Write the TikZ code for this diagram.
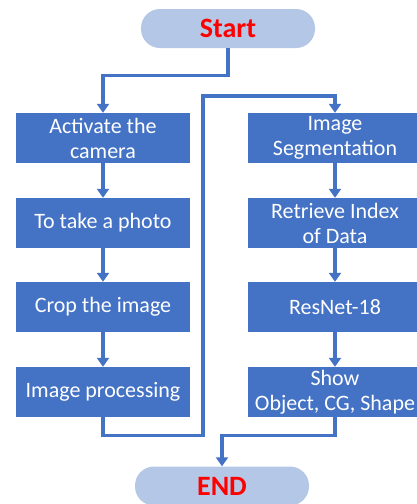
\documentclass[tikz,border=0pt]{standalone}
\usepackage{fontspec}
\setmainfont{Carlito}
\usetikzlibrary{arrows.meta}

\definecolor{boxblue}{HTML}{4472C4}
\definecolor{termblue}{HTML}{B4C7E7}

\begin{document}
\begin{tikzpicture}[x=1pt,y=-1pt,
    procbox/.style={fill=boxblue,text=white,minimum width=174pt,minimum height=50pt,
      align=center,inner sep=2pt,font=\fontsize{22}{25}\selectfont},
    termbox/.style={fill=termblue,text=red,minimum width=174pt,minimum height=39pt,
      rounded corners=19pt,font=\fontsize{28}{30}\selectfont\bfseries},
    flow/.style={draw=boxblue,line width=3.2pt,-{Triangle[length=9pt,width=12pt]}}]
    \useasboundingbox (0,0) rectangle (416,504);
    \node[termbox] (start) at (228,28.5) {Start};
    \node[termbox] (end) at (222,486) {END};
    % left column
    \foreach \y/\name/\txt in {138/act/{Activate the\\camera},223/photo/{To take a photo},
        307/crop/{Crop the image},392/proc/{Image processing}}
      \node[procbox] (\name) at (103,\y) {\txt};
    % right column
    \foreach \y/\name/\txt in {138/seg/{Image\\Segmentation},223/retr/{Retrieve Index\\of Data},
        307/res/{ResNet-18},392/show/{Show\\Object, CG, Shape}}
      \node[procbox] (\name) at (335,\y) {\txt};
    \foreach \a/\b in {act/photo,photo/crop,crop/proc,seg/retr,retr/res,res/show}
      \draw[flow] (\a) -- (\b);
    \coordinate (turn) at (203,96);
    \draw[flow] (start.south) -- ++(0,27) -| (act.north);
    \draw[flow] (proc.south) -- ++(0,18) -| (turn) -| (seg.north);
    \draw[flow] (show.south) -- ++(0,18) -| (end.north);
  \end{tikzpicture}
\end{document}
